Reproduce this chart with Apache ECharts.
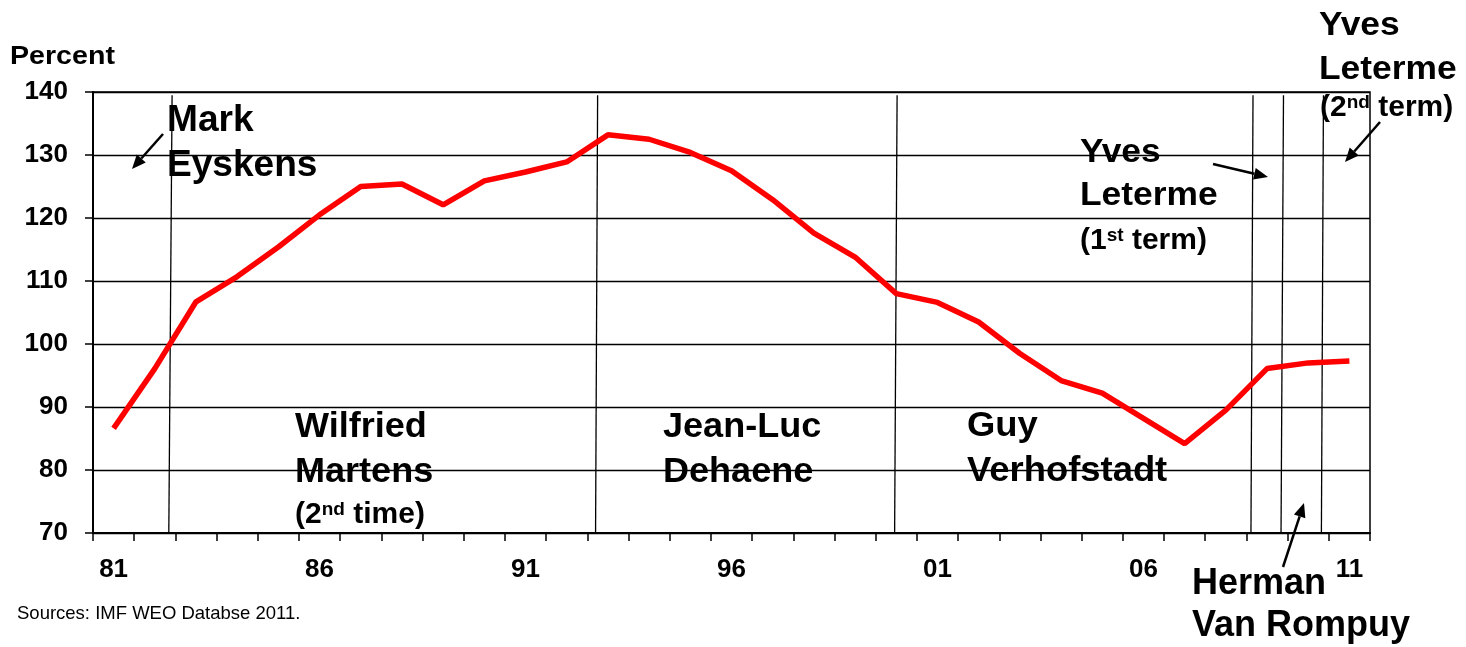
<!DOCTYPE html>
<html>
<head>
<meta charset="utf-8">
<title>Belgium public debt</title>
<script src="https://cdn.jsdelivr.net/npm/echarts@6.0.0/dist/echarts.min.js"></script>
<style>
html, body { margin: 0; padding: 0; background: #fff; }
#main { width: 1466px; height: 647px; }
</style>
</head>
<body>
<div id="main"></div>
<script>
// gross debt, percent of GDP, 1981-2011
var years = ['81', '82', '83', '84', '85', '86', '87', '88', '89', '90',
             '91', '92', '93', '94', '95', '96', '97', '98', '99', '00',
             '01', '02', '03', '04', '05', '06', '07', '08', '09', '10', '11'];
var debtRatio = [86.6, 96.1, 106.7, 110.7, 115.4, 120.5, 125.0, 125.4, 122.1, 125.9,
                 127.3, 128.9, 133.2, 132.5, 130.4, 127.5, 122.9, 117.6, 113.8, 108.0,
                 106.6, 103.5, 98.5, 94.2, 92.2, 88.2, 84.2, 89.5, 96.1, 97.0, 97.3];
// change of government (year fraction), read at top and bottom of the plot
var termStartTop = [1982.42, 1992.75, 2000.02, 2008.66, 2009.40, 2010.37];
var termStartBottom = [1982.34, 1992.70, 1999.96, 2008.61, 2009.34, 2010.32];
var yMin = 70, yMax = 140, yStep = 10;

var FONT = '"Liberation Sans", Arial, sans-serif';

var chart = echarts.init(document.getElementById('main'));

function label(text, x, y, size, sx) {
	return {
		type: 'text', x: x, y: y, scaleX: sx || 1.03,
		style: {
			text: text, fill: '#000', align: 'left', verticalAlign: 'middle',
			font: 'bold ' + size + 'px ' + FONT
		}
	};
}

function supLabel(main, sup, rest, x, y) {
	return {
		type: 'text', x: x, y: y,
		style: {
			text: '{n|' + main + '}{s|' + sup + '}{n|' + rest + '}',
			align: 'left', verticalAlign: 'middle',
			rich: {
				n: { fontFamily: FONT, fontWeight: 'bold', fontSize: 30, color: '#000', lineHeight: 34 },
				s: { fontFamily: FONT, fontWeight: 'bold', fontSize: 19, color: '#000', lineHeight: 34, verticalAlign: 'top', padding: [2, 0, 0, 0] }
			}
		}
	};
}

function arrow(x1, y1, x2, y2) {
	var a = Math.atan2(y2 - y1, x2 - x1), L = 14, W = 6;
	var bx = x2 - L * Math.cos(a), by = y2 - L * Math.sin(a);
	return [{
		type: 'line',
		shape: { x1: x1, y1: y1, x2: bx, y2: by },
		style: { stroke: '#000', lineWidth: 2.5 }
	}, {
		type: 'polygon',
		shape: { points: [[x2, y2], [bx + W * Math.sin(a), by - W * Math.cos(a)], [bx - W * Math.sin(a), by + W * Math.cos(a)]] },
		style: { fill: '#000' }
	}];
}

var termSeries = termStartTop.map(function(t, i) {
	return {
		type: 'line', xAxisIndex: 1, yAxisIndex: 0, silent: true,
		symbol: 'none', z: 1,
		lineStyle: { color: '#000', width: 1.3 },
		data: [[t, yMax - 0.5], [termStartBottom[i], yMin]]
	};
});

var graphics = [
	label('Percent', 10, 57, 26, 1.1),
	label('Mark', 167, 121, 36),
	label('Eyskens', 167, 166, 36),
	label('Wilfried', 295, 427, 35),
	label('Martens', 295, 472, 35),
	supLabel('(2', 'nd', ' time)', 295, 515),
	label('Jean-Luc', 663, 427, 35),
	label('Dehaene', 663, 472, 35),
	label('Guy', 967, 426, 35, 1.04),
	label('Verhofstadt', 967, 471, 35, 1.04),
	label('Yves', 1080, 153, 34, 1.04),
	label('Leterme', 1080, 196, 34, 1.04),
	supLabel('(1', 'st', ' term)', 1080, 241),
	label('Yves', 1319, 26, 34, 1.04),
	label('Leterme', 1319, 70, 34, 1.04),
	supLabel('(2', 'nd', ' term)', 1320, 108),
	label('Herman', 1192, 584, 36, 1.0),
	label('Van Rompuy', 1192, 626, 36, 1.0),
	{
		type: 'text', x: 17, y: 614,
		style: { text: 'Sources: IMF WEO Databse 2011.', fill: '#000', verticalAlign: 'middle', font: '18.5px ' + FONT }
	}
].concat(arrow(163, 134, 132, 169))
 .concat(arrow(1213, 164, 1268, 177))
 .concat(arrow(1380, 122, 1345, 162))
 .concat(arrow(1283, 567, 1304, 503));

var option = {
	animation: false,
	backgroundColor: '#fff',
	textStyle: { fontFamily: FONT },
	grid: { left: 93, right: 96, top: 92, bottom: 114, show: true, borderColor: '#000', borderWidth: 1.5 },
	xAxis: [{
		type: 'category',
		data: years,
		boundaryGap: true,
		axisLine: { lineStyle: { color: '#000', width: 2 } },
		axisTick: { show: true, interval: 0, length: 8, lineStyle: { color: '#000', width: 1.5 } },
		axisLabel: { interval: 4, margin: 24, color: '#000', fontSize: 26, fontWeight: 'bold' },
		splitLine: { show: false }
	}, {
		type: 'value', min: 1980.5, max: 2011.5, show: false
	}],
	yAxis: {
		type: 'value',
		min: yMin, max: yMax, interval: yStep,
		axisLine: { show: true, lineStyle: { color: '#000', width: 2 } },
		axisTick: { show: true, length: 8, lineStyle: { color: '#000', width: 1.5 } },
		axisLabel: { margin: 25, color: '#000', fontSize: 26, fontWeight: 'bold' },
		splitLine: { show: true, lineStyle: { color: '#000', width: 1.3 } }
	},
	series: termSeries.concat([{
		type: 'line',
		name: 'Debt',
		data: debtRatio,
		symbol: 'none',
		z: 3,
		lineStyle: { color: '#ff0000', width: 5.5 }
	}]),
	graphic: graphics
};

chart.setOption(option);
</script>
</body>
</html>
